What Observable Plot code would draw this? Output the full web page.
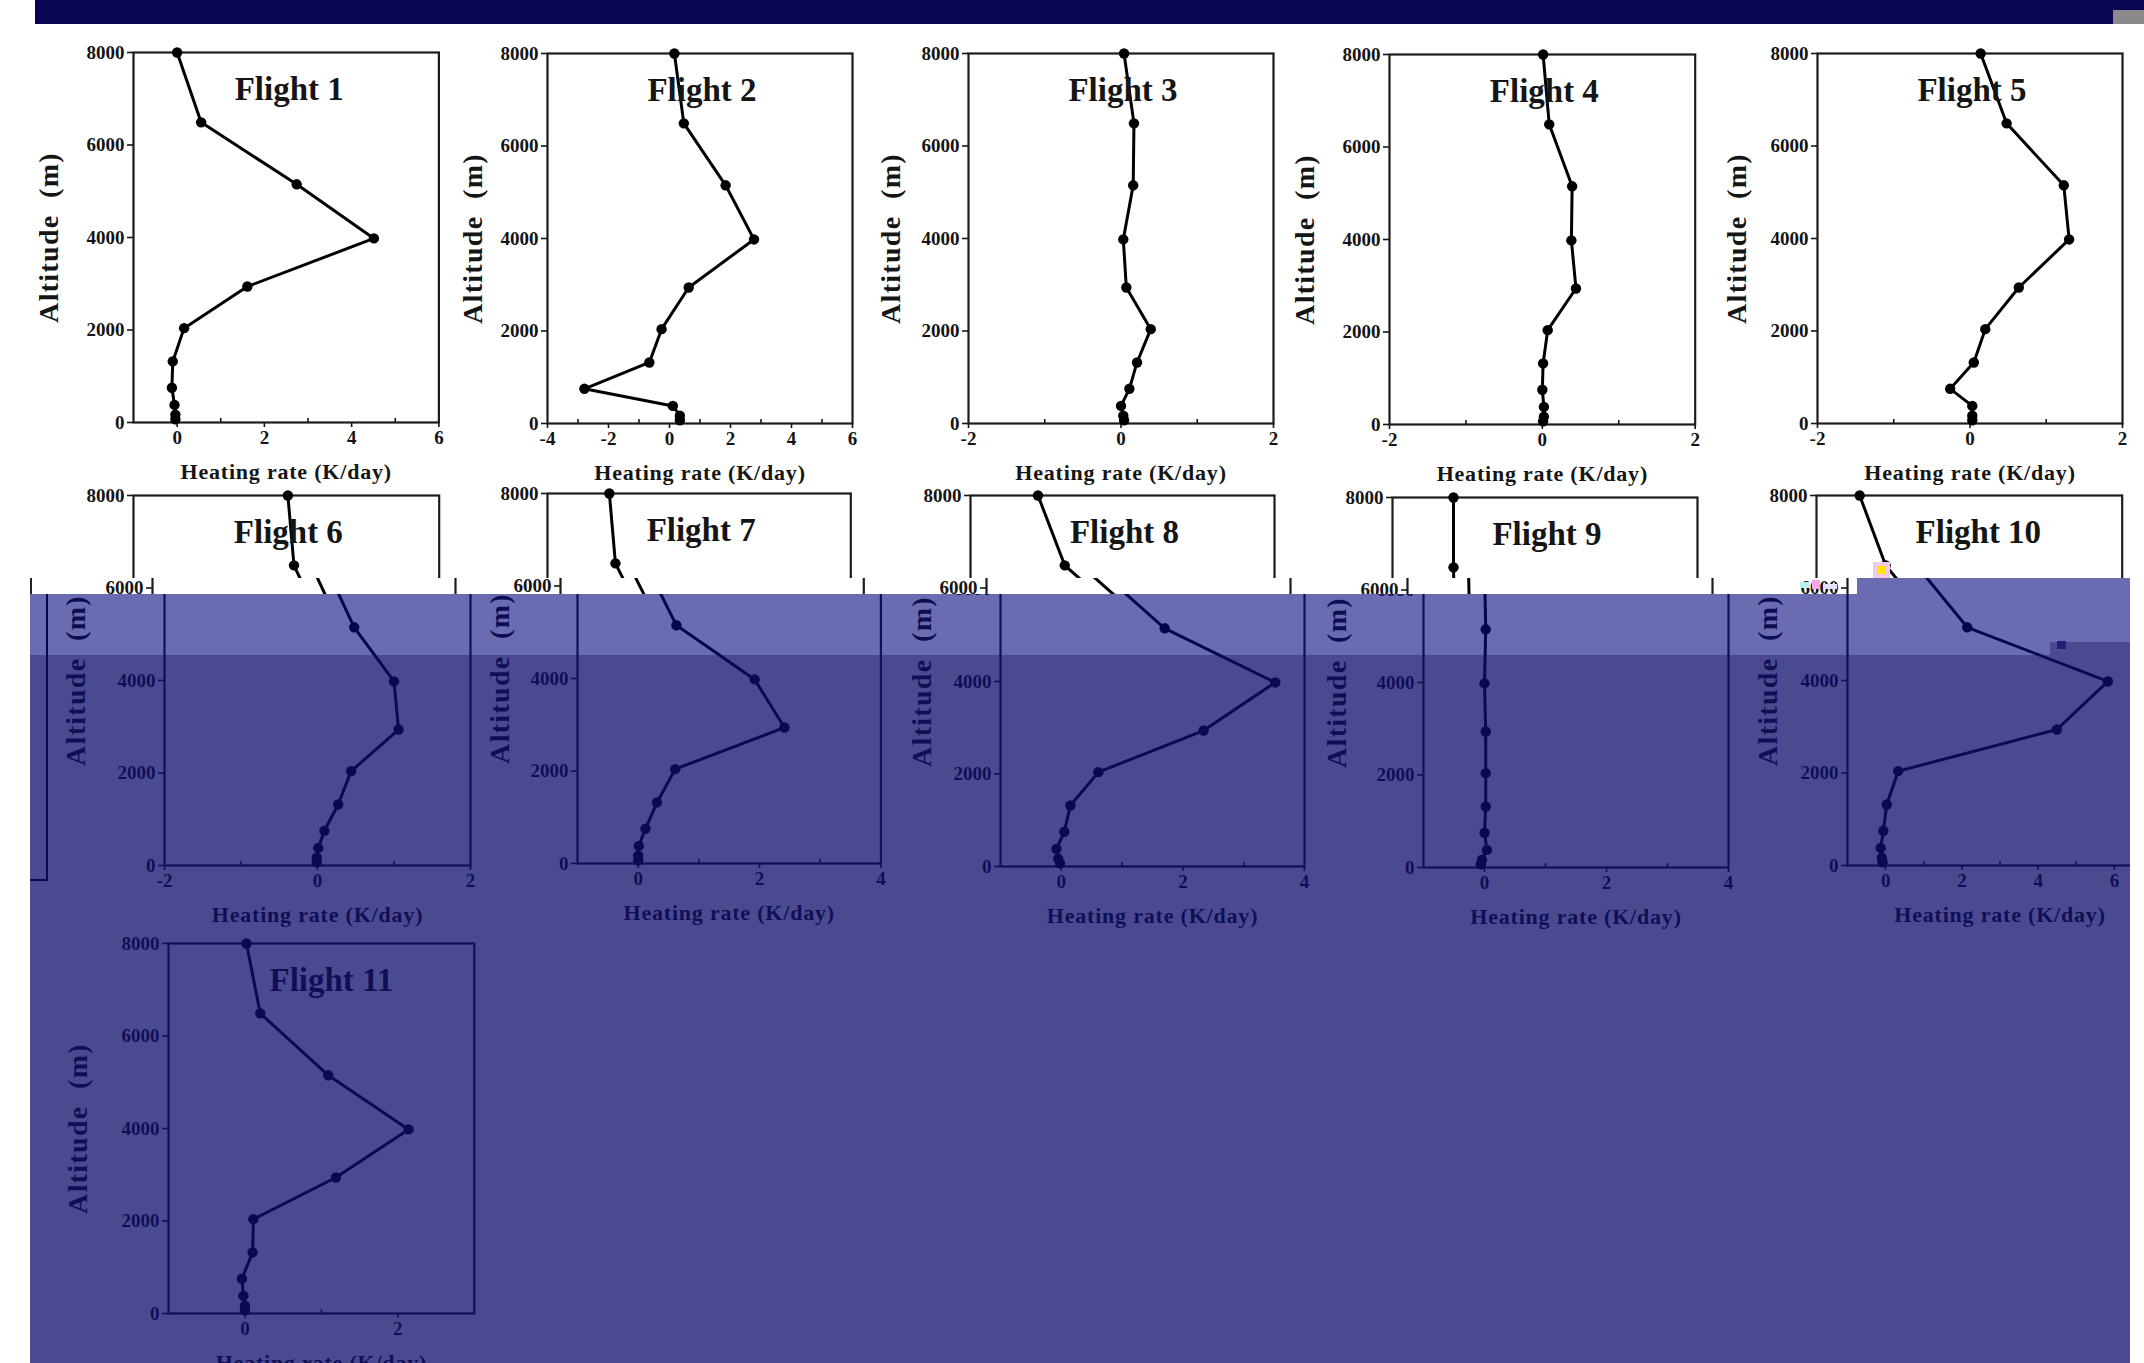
<!DOCTYPE html>
<html><head><meta charset="utf-8">
<script src="https://cdn.jsdelivr.net/npm/d3@7"></script>
<script src="https://cdn.jsdelivr.net/npm/@observablehq/plot@0.6"></script>
<style>
body{margin:0;background:#fff;}
#page{position:relative;width:2144px;height:1363px;overflow:hidden;background:#fff;}
.clip{position:absolute;overflow:hidden;left:0;width:2144px;}
.box{position:absolute;}
</style></head><body><div id="page"></div><script>
// ---- data ----
const altitudes = [8000, 6490, 5150, 3980, 2940, 2040, 1320, 750, 380, 170, 70];
const flight1  = [0.00, 0.55, 2.74, 4.51, 1.61, 0.16, -0.10, -0.12, -0.06, -0.04, -0.04];
const flight2  = [0.16, 0.47, 1.84, 2.77, 0.63, -0.26, -0.66, -2.79, 0.11, 0.34, 0.34];
const flight3  = [0.04, 0.17, 0.16, 0.03, 0.07, 0.39, 0.21, 0.11, 0.00, 0.03, 0.04];
const flight4  = [0.01, 0.09, 0.39, 0.38, 0.44, 0.07, 0.01, 0.00, 0.02, 0.02, 0.01];
const flight5  = [0.14, 0.48, 1.23, 1.30, 0.64, 0.20, 0.05, -0.26, 0.03, 0.03, 0.03];
const flight6  = [0.02, 0.10, 0.48, 1.00, 1.06, 0.44, 0.27, 0.09, 0.01, -0.01, -0.01];
const flight7  = [0.02, 0.12, 0.63, 1.92, 2.41, 0.61, 0.31, 0.12, 0.01, 0.00, 0.00];
const flight8  = [0.11, 0.55, 1.70, 3.52, 2.34, 0.61, 0.15, 0.05, -0.08, -0.05, -0.02];
const flight9  = [0.00, 0.00, 0.02, 0.00, 0.02, 0.02, 0.02, 0.00, 0.04, -0.04, -0.06];
const flight10 = [0.13, 0.81, 2.14, 5.83, 4.49, 0.33, 0.03, -0.06, -0.13, -0.10, -0.08];
const flight11 = [0.02, 0.20, 1.09, 2.14, 1.19, 0.11, 0.10, -0.04, -0.02, 0.00, 0.00];
const flights = [flight1, flight2, flight3, flight4, flight5, flight6, flight7, flight8, flight9, flight10, flight11];
const titles = ["Flight 1","Flight 2","Flight 3","Flight 4","Flight 5","Flight 6","Flight 7","Flight 8","Flight 9","Flight 10","Flight 11"];
const xDomains = [[-1,6],[-4,6],[-2,2],[-2,2],[-2,2],[-2,2],[-1,4],[-1,4],[-1,4],[-1,7],[-1,3]];
const xTicks = [[0,2,4,6],[-4,-2,0,2,4,6],[-2,0,2],[-2,0,2],[-2,0,2],[-2,0,2],[0,2,4],[0,2,4],[0,2,4],[0,2,4,6],[0,2]];
const xMinor = [[1,3,5],[-3,-1,1,3,5],[-1,1],[-1,1],[-1,1],[-1,1],[1,3],[1,3],[1,3],[1,3,5],[1]];
const yTicks = [0, 2000, 4000, 6000, 8000];
const yLabel = "Altitude  (m)";
const xLabel = "Heating rate (K/day)";

// ---- drawing ----
const page = document.getElementById("page");
const ML = 100, MR = 12, MT = 10, MB = 62, FH = 370;
const FONT = "'Liberation Serif','Times New Roman',serif";
const titleShift = [3, 2, 2, 2, 2, 2, 2, 2, 2, 9, 10];

function panel(i, frameW, labelOff) {
  const data = altitudes.map((a, k) => ({alt: a, v: flights[i][k]}));
  const svg = Plot.plot({
    width: frameW + ML + MR, height: FH + MT + MB,
    marginLeft: ML, marginRight: MR, marginTop: MT, marginBottom: MB,
    x: {domain: xDomains[i], label: null},
    y: {domain: [0, 8000], label: null},
    style: {fontFamily: FONT, fontWeight: "bold", fontSize: "19px", color: "#141414", background: "transparent", overflow: "visible"},
    marks: [
      Plot.axisY({ticks: yTicks, tickSize: 6, tickPadding: 3, tickFormat: d => String(d), label: null, strokeWidth: 1.6, fontSize: 19}),
      Plot.axisX({ticks: xTicks[i], tickSize: 5, tickPadding: 3, tickFormat: d => String(d), label: null, strokeWidth: 1.6, fontSize: 19}),
      Plot.axisX({ticks: xMinor[i], tickSize: -4, text: null, label: null, strokeWidth: 1.6}),
      Plot.frame({stroke: "#1c1c1c", strokeWidth: 2.2}),
      Plot.line(data, {x: "v", y: "alt", stroke: "#000", strokeWidth: 3}),
      Plot.dot(data, {x: "v", y: "alt", r: 5.2, fill: "#000"}),
      Plot.text([titles[i]], {text: d => d, frameAnchor: "top", dx: titleShift[i], dy: 37, textAnchor: "middle", lineAnchor: "middle", fontSize: 33, fontWeight: "bold", fill: "#151515"}),
      Plot.text([yLabel], {text: d => d, frameAnchor: "left", rotate: -90, dx: -labelOff, textAnchor: "middle", lineAnchor: "middle", fontSize: 28, fontWeight: "bold", fill: "#151515"}),
      Plot.text([xLabel], {text: d => d, frameAnchor: "bottom", dy: 49, textAnchor: "middle", lineAnchor: "middle", fontSize: 22, fontWeight: "bold", fill: "#151515"})
    ]
  });
  svg.querySelectorAll("text").forEach(t => {
    if (t.textContent === yLabel) t.style.letterSpacing = "1.3px";
    if (t.textContent === xLabel) t.style.letterSpacing = "0.8px";
  });
  return svg;
}

function place(svg, frameLeft, frameTop, clipTop, clipBottom) {
  const wrap = document.createElement("div");
  wrap.className = "clip";
  wrap.style.top = clipTop + "px";
  wrap.style.height = (clipBottom - clipTop) + "px";
  svg.style.position = "absolute";
  svg.style.left = (frameLeft - ML) + "px";
  svg.style.top = (frameTop - MT - clipTop) + "px";
  svg.style.maxWidth = "none";
  wrap.appendChild(svg);
  page.appendChild(wrap);
}
function box(l, t, w, h, bg) {
  const d = document.createElement("div");
  d.className = "box";
  Object.assign(d.style, {left: l + "px", top: t + "px", width: w + "px", height: h + "px", background: bg});
  page.appendChild(d);
}

// row 1  [frame left, frame top, frame width, y-label offset]
const r1 = [[132.6, 52, 305.4, 84], [546.7, 52.7, 305, 74], [968.3, 52.7, 305, 77], [1389.3, 54, 305.7, 84], [1816.7, 52.7, 305, 80]];
r1.forEach(([l, t, w, o], k) => place(panel(k, w, o), l, t, 0, 1363));

// row 2 : top slice, thin shifted slice, lower shifted copy
const r2A = [[133.3, 495, 305.7, 84], [546.7, 493.3, 303.3, 78], [970, 495, 304, 78], [1391.7, 496.7, 305, 84], [1816, 495, 305.7, 80]];
const r2B = [[151.5, 495, 303, 84], [560, 493.3, 303.3, 78], [986, 495, 304, 78], [1407, 496.7, 305, 84], [1846.7, 495, 305, 80]];
const r2C = [[163.6, 495, 306, 88], [577.3, 493.3, 303.4, 77], [1000, 495.7, 304, 78], [1423.3, 496.7, 305, 86], [1846.7, 495, 305, 79]];
r2A.forEach(([l, t, w, o], k) => place(panel(5 + k, w, o), l, t, 480, 578));
r2B.forEach(([l, t, w, o], k) => place(panel(5 + k, w, o), l, t, 578, 594));
r2C.forEach(([l, t, w, o], k) => place(panel(5 + k, w, o), l, t, 594, 1363));
// row 3
place(panel(10, 305.8, 90), 167.7, 943.3, 594, 1363);

// stray frame fragments at the left edge
box(30, 578, 2, 16, "#222");
box(45.5, 594, 2, 287, "#000");
box(30, 879, 17, 2, "#000");

// small colour glitches near Flight 10
box(1873, 562, 17, 16, "#f2c9ee");
box(1877, 566, 9, 8, "#ffe600");
box(1800, 582, 10, 6, "#b8f0f8");
box(1812, 580, 8, 9, "#f4a6e6");
box(1823, 584, 14, 5, "#e8e0ff");

// translucent overlay over the lower part
box(30, 594, 1827, 61, "rgba(8,8,125,0.60)");
box(1857, 578, 193, 77, "rgba(8,8,125,0.60)");
box(2050, 578, 80, 64, "rgba(8,8,125,0.60)");
box(30, 655, 2020, 708, "rgba(15,13,108,0.75)");
box(2050, 642, 80, 721, "rgba(15,13,108,0.75)");
box(2057, 641, 9, 8, "rgba(30,26,120,0.9)");
box(2130, 578, 14, 785, "#fff");

// top banner
box(35, 0, 2109, 24, "#0a0552");
box(2113, 10, 31, 14, "#8a8a8a");
</script></body></html>
